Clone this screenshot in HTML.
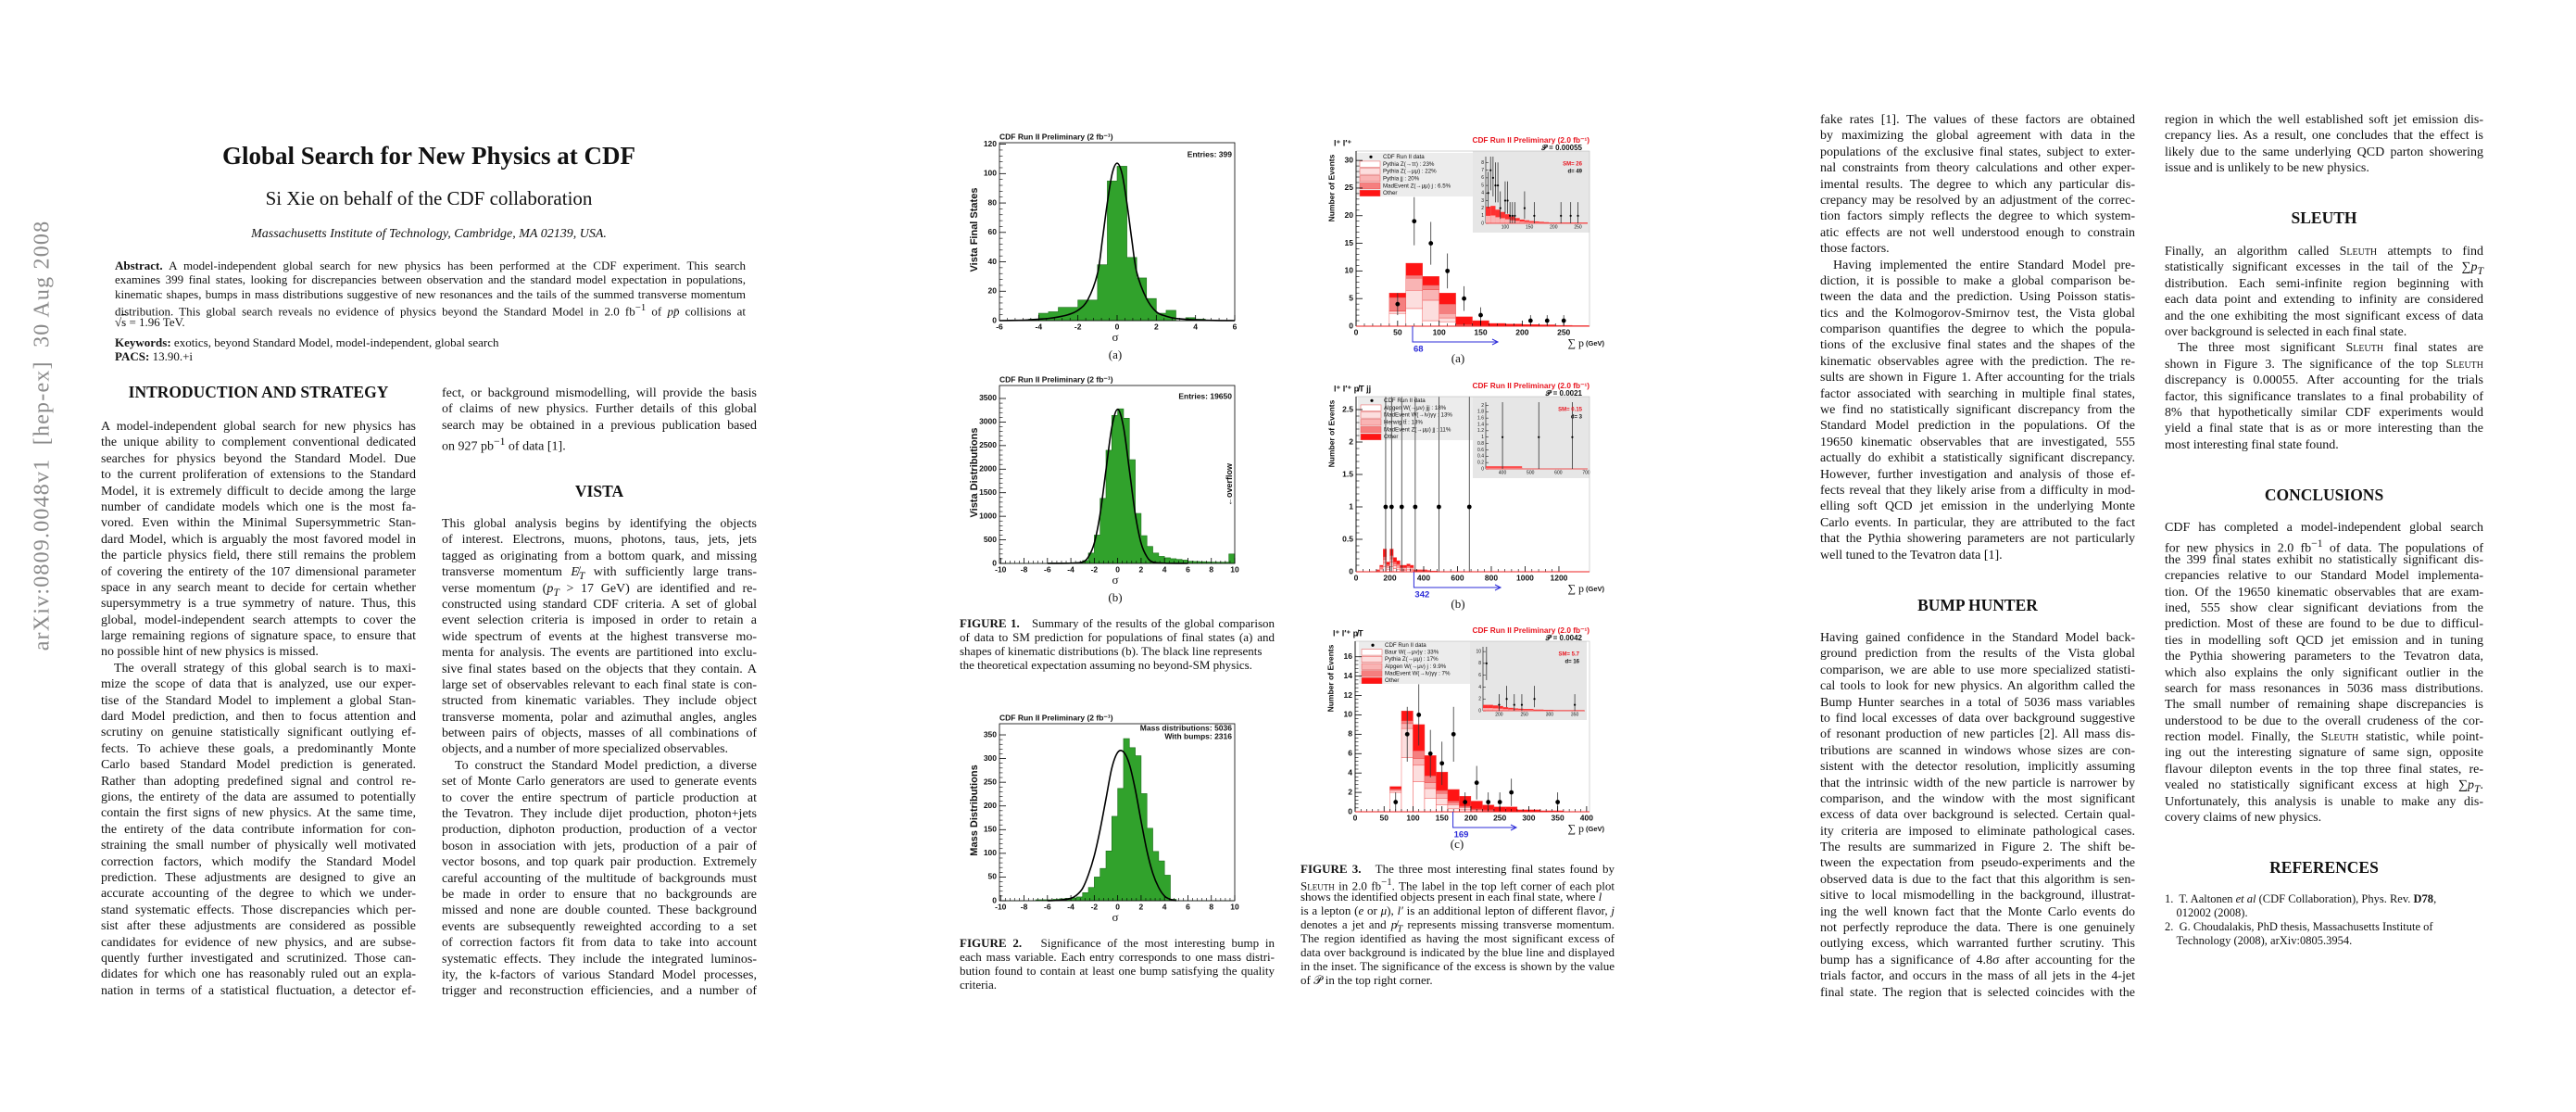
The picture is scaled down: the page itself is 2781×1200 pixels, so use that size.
<!DOCTYPE html>
<html><head><meta charset="utf-8">
<style>
html,body{margin:0;padding:0;background:#fff;}
body{width:2781px;height:1200px;position:relative;overflow:hidden;font-family:"Liberation Serif",serif;color:#111;}
.abs{position:absolute;}
.col{position:absolute;width:340px;font-size:14px;line-height:17.4px;}
.col div{white-space:nowrap;text-align:justify;text-align-last:justify;height:17.4px;}
.col div.e{text-align-last:left;}
.col div.i{text-indent:14px;}
.h{position:absolute;width:340px;text-align:center;font-weight:bold;font-size:17.5px;line-height:22px;white-space:nowrap;}
.cap{position:absolute;width:340px;font-size:13px;line-height:15px;}
.cap div{white-space:nowrap;text-align:justify;text-align-last:justify;height:15px;}
.cap div.e{text-align-last:left;}
.abst{position:absolute;left:124px;width:681px;font-size:13px;line-height:15.3px;}
.abst div{white-space:nowrap;text-align:justify;text-align-last:justify;height:15.3px;}
.abst div.e{text-align-last:left;}
.sc{font-variant:small-caps;}
svg text{font-family:"Liberation Sans",sans-serif;}
</style></head>
<body>

<div class="abs" style="left:46px;top:470px;transform:translate(-50%,-50%) rotate(-90deg);white-space:nowrap;font-size:24px;color:#8a8a8a;letter-spacing:1.2px;">arXiv:0809.0048v1&nbsp; [hep-ex]&nbsp; 30 Aug 2008</div>

<div class="abs" style="left:0;width:926px;top:153px;text-align:center;font-weight:bold;font-size:27px;line-height:30px;white-space:nowrap;">Global Search for New Physics at CDF</div>
<div class="abs" style="left:0;width:926px;top:202px;text-align:center;font-size:21px;line-height:24px;white-space:nowrap;">Si Xie on behalf of the CDF collaboration</div>
<div class="abs" style="left:0;width:926px;top:244px;text-align:center;font-size:14px;font-style:italic;line-height:17px;white-space:nowrap;">Massachusetts Institute of Technology, Cambridge, MA 02139, USA.</div>

<div class="abst" style="top:279px;">
<div><b>Abstract.</b> A model-independent global search for new physics has been performed at the CDF experiment. This search</div>
<div>examines 399 final states, looking for discrepancies between observation and the standard model expectation in populations,</div>
<div>kinematic shapes, bumps in mass distributions suggestive of new resonances and the tails of the summed transverse momentum</div>
<div>distribution. This global search reveals no evidence of physics beyond the Standard Model in 2.0 fb<sup>−1</sup> of <i>pp̄</i> collisions at</div>
<div class="e">√<span style="text-decoration:overline">s</span> = 1.96 TeV.</div>
</div>
<div class="abst" style="top:362px;">
<div class="e"><b>Keywords:</b> exotics, beyond Standard Model, model-independent, global search</div>
<div class="e"><b>PACS:</b> 13.90.+i</div>
</div>

<!-- Column 1 -->
<div class="h" style="left:109px;top:412px;">INTRODUCTION AND STRATEGY</div>
<div class="col" style="left:109px;top:452px;">
<div>A model-independent global search for new physics has</div>
<div>the unique ability to complement conventional dedicated</div>
<div>searches for physics beyond the Standard Model. Due</div>
<div>to the current proliferation of extensions to the Standard</div>
<div>Model, it is extremely difficult to decide among the large</div>
<div>number of candidate models which one is the most fa-</div>
<div>vored. Even within the Minimal Supersymmetric Stan-</div>
<div>dard Model, which is arguably the most favored model in</div>
<div>the particle physics field, there still remains the problem</div>
<div>of covering the entirety of the 107 dimensional parameter</div>
<div>space in any search meant to decide for certain whether</div>
<div>supersymmetry is a true symmetry of nature. Thus, this</div>
<div>global, model-independent search attempts to cover the</div>
<div>large remaining regions of signature space, to ensure that</div>
<div class="e">no possible hint of new physics is missed.</div>
<div class="i">The overall strategy of this global search is to maxi-</div>
<div>mize the scope of data that is analyzed, use our exper-</div>
<div>tise of the Standard Model to implement a global Stan-</div>
<div>dard Model prediction, and then to focus attention and</div>
<div>scrutiny on genuine statistically significant outlying ef-</div>
<div>fects. To achieve these goals, a predominantly Monte</div>
<div>Carlo based Standard Model prediction is generated.</div>
<div>Rather than adopting predefined signal and control re-</div>
<div>gions, the entirety of the data are assumed to potentially</div>
<div>contain the first signs of new physics. At the same time,</div>
<div>the entirety of the data contribute information for con-</div>
<div>straining the small number of physically well motivated</div>
<div>correction factors, which modify the Standard Model</div>
<div>prediction. These adjustments are designed to give an</div>
<div>accurate accounting of the degree to which we under-</div>
<div>stand systematic effects. Those discrepancies which per-</div>
<div>sist after these adjustments are considered as possible</div>
<div>candidates for evidence of new physics, and are subse-</div>
<div>quently further investigated and scrutinized. Those can-</div>
<div>didates for which one has reasonably ruled out an expla-</div>
<div>nation in terms of a statistical fluctuation, a detector ef-</div>
</div>

<!-- Column 2 -->
<div class="col" style="left:477px;top:416px;">
<div>fect, or background mismodelling, will provide the basis</div>
<div>of claims of new physics. Further details of this global</div>
<div>search may be obtained in a previous publication based</div>
<div class="e">on 927 pb<sup>−1</sup> of data [1].</div>
</div>
<div class="h" style="left:477px;top:519px;">VISTA</div>
<div class="col" style="left:477px;top:557px;">
<div>This global analysis begins by identifying the objects</div>
<div>of interest. Electrons, muons, photons, taus, jets, jets</div>
<div>tagged as originating from a bottom quark, and missing</div>
<div>transverse momentum <i>E̸<sub>T</sub></i> with sufficiently large trans-</div>
<div>verse momentum (<i>p<sub>T</sub></i> &gt; 17 GeV) are identified and re-</div>
<div>constructed using standard CDF criteria. A set of global</div>
<div>event selection criteria is imposed in order to retain a</div>
<div>wide spectrum of events at the highest transverse mo-</div>
<div>menta for analysis. The events are partitioned into exclu-</div>
<div>sive final states based on the objects that they contain. A</div>
<div>large set of observables relevant to each final state is con-</div>
<div>structed from kinematic variables. They include object</div>
<div>transverse momenta, polar and azimuthal angles, angles</div>
<div>between pairs of objects, masses of all combinations of</div>
<div class="e">objects, and a number of more specialized observables.</div>
<div class="i">To construct the Standard Model prediction, a diverse</div>
<div>set of Monte Carlo generators are used to generate events</div>
<div>to cover the entire spectrum of particle production at</div>
<div>the Tevatron. They include dijet production, photon+jets</div>
<div>production, diphoton production, production of a vector</div>
<div>boson in association with jets, production of a pair of</div>
<div>vector bosons, and top quark pair production. Extremely</div>
<div>careful accounting of the multitude of backgrounds must</div>
<div>be made in order to ensure that no backgrounds are</div>
<div>missed and none are double counted. These background</div>
<div>events are subsequently reweighted according to a set</div>
<div>of correction factors fit from data to take into account</div>
<div>systematic effects. They include the integrated luminos-</div>
<div>ity, the k-factors of various Standard Model processes,</div>
<div>trigger and reconstruction efficiencies, and a number of</div>
</div>

<!-- Column 3 -->
<div class="col" style="left:1965px;top:121px;">
<div>fake rates [1]. The values of these factors are obtained</div>
<div>by maximizing the global agreement with data in the</div>
<div>populations of the exclusive final states, subject to exter-</div>
<div>nal constraints from theory calculations and other exper-</div>
<div>imental results. The degree to which any particular dis-</div>
<div>crepancy may be resolved by an adjustment of the correc-</div>
<div>tion factors simply reflects the degree to which system-</div>
<div>atic effects are not well understood enough to constrain</div>
<div class="e">those factors.</div>
<div class="i">Having implemented the entire Standard Model pre-</div>
<div>diction, it is possible to make a global comparison be-</div>
<div>tween the data and the prediction. Using Poisson statis-</div>
<div>tics and the Kolmogorov-Smirnov test, the Vista global</div>
<div>comparison quantifies the degree to which the popula-</div>
<div>tions of the exclusive final states and the shapes of the</div>
<div>kinematic observables agree with the prediction. The re-</div>
<div>sults are shown in Figure 1. After accounting for the trials</div>
<div>factor associated with searching in multiple final states,</div>
<div>we find no statistically significant discrepancy from the</div>
<div>Standard Model prediction in the populations. Of the</div>
<div>19650 kinematic observables that are investigated, 555</div>
<div>actually do exhibit a statistically significant discrepancy.</div>
<div>However, further investigation and analysis of those ef-</div>
<div>fects reveal that they likely arise from a difficulty in mod-</div>
<div>elling soft QCD jet emission in the underlying Monte</div>
<div>Carlo events. In particular, they are attributed to the fact</div>
<div>that the Pythia showering parameters are not particularly</div>
<div class="e">well tuned to the Tevatron data [1].</div>
</div>
<div class="h" style="left:1965px;top:642px;">BUMP HUNTER</div>
<div class="col" style="left:1965px;top:680px;">
<div>Having gained confidence in the Standard Model back-</div>
<div>ground prediction from the results of the Vista global</div>
<div>comparison, we are able to use more specialized statisti-</div>
<div>cal tools to look for new physics. An algorithm called the</div>
<div>Bump Hunter searches in a total of 5036 mass variables</div>
<div>to find local excesses of data over background suggestive</div>
<div>of resonant production of new particles [2]. All mass dis-</div>
<div>tributions are scanned in windows whose sizes are con-</div>
<div>sistent with the detector resolution, implicitly assuming</div>
<div>that the intrinsic width of the new particle is narrower by</div>
<div>comparison, and the window with the most significant</div>
<div>excess of data over background is selected. Certain qual-</div>
<div>ity criteria are imposed to eliminate pathological cases.</div>
<div>The results are summarized in Figure 2. The shift be-</div>
<div>tween the expectation from pseudo-experiments and the</div>
<div>observed data is due to the fact that this algorithm is sen-</div>
<div>sitive to local mismodelling in the background, illustrat-</div>
<div>ing the well known fact that the Monte Carlo events do</div>
<div>not perfectly reproduce the data. There is one genuinely</div>
<div>outlying excess, which warranted further scrutiny. This</div>
<div>bump has a significance of 4.8σ after accounting for the</div>
<div>trials factor, and occurs in the mass of all jets in the 4-jet</div>
<div>final state. The region that is selected coincides with the</div>
</div>

<!-- Column 4 -->
<div class="col" style="left:2337px;top:121px;width:344px;">
<div>region in which the well established soft jet emission dis-</div>
<div>crepancy lies. As a result, one concludes that the effect is</div>
<div>likely due to the same underlying QCD parton showering</div>
<div class="e">issue and is unlikely to be new physics.</div>
</div>
<div class="h" style="left:2337px;top:224px;width:344px;">SLEUTH</div>
<div class="col" style="left:2337px;top:263px;width:344px;">
<div>Finally, an algorithm called <span class="sc">Sleuth</span> attempts to find</div>
<div>statistically significant excesses in the tail of the ∑<i>p<sub>T</sub></i></div>
<div>distribution. Each semi-infinite region beginning with</div>
<div>each data point and extending to infinity are considered</div>
<div>and the one exhibiting the most significant excess of data</div>
<div class="e">over background is selected in each final state.</div>
<div class="i">The three most significant <span class="sc">Sleuth</span> final states are</div>
<div>shown in Figure 3. The significance of the top <span class="sc">Sleuth</span></div>
<div>discrepancy is 0.00055. After accounting for the trials</div>
<div>factor, this significance translates to a final probability of</div>
<div>8% that hypothetically similar CDF experiments would</div>
<div>yield a final state that is as or more interesting than the</div>
<div class="e">most interesting final state found.</div>
</div>
<div class="h" style="left:2337px;top:523px;width:344px;">CONCLUSIONS</div>
<div class="col" style="left:2337px;top:561px;width:344px;">
<div>CDF has completed a model-independent global search</div>
<div>for new physics in 2.0 fb<sup>−1</sup> of data. The populations of</div>
<div>the 399 final states exhibit no statistically significant dis-</div>
<div>crepancies relative to our Standard Model implementa-</div>
<div>tion. Of the 19650 kinematic observables that are exam-</div>
<div>ined, 555 show clear significant deviations from the</div>
<div>prediction. Most of these are found to be due to difficul-</div>
<div>ties in modelling soft QCD jet emission and in tuning</div>
<div>the Pythia showering parameters to the Tevatron data,</div>
<div>which also explains the only significant outlier in the</div>
<div>search for mass resonances in 5036 mass distributions.</div>
<div>The small number of remaining shape discrepancies is</div>
<div>understood to be due to the overall crudeness of the cor-</div>
<div>rection model. Finally, the <span class="sc">Sleuth</span> statistic, while point-</div>
<div>ing out the interesting signature of same sign, opposite</div>
<div>flavour dilepton events in the top three final states, re-</div>
<div>vealed no statistically significant excess at high ∑<i>p<sub>T</sub></i>.</div>
<div>Unfortunately, this analysis is unable to make any dis-</div>
<div class="e">covery claims of new physics.</div>
</div>
<div class="h" style="left:2337px;top:925px;width:344px;">REFERENCES</div>
<div class="cap" style="left:2337px;top:963px;width:344px;font-size:12.5px;line-height:15.5px;">
<div class="e">1.&nbsp; T. Aaltonen <i>et al</i> (CDF Collaboration), Phys. Rev. <b>D78</b>,</div>
<div class="e">&nbsp;&nbsp;&nbsp;&nbsp;012002 (2008).</div>
<div class="e">2.&nbsp; G. Choudalakis, PhD thesis, Massachusetts Institute of</div>
<div class="e">&nbsp;&nbsp;&nbsp;&nbsp;Technology (2008), arXiv:0805.3954.</div>
</div>

<!-- Captions -->
<div class="cap" style="left:1036px;top:665px;">
<div><b>FIGURE 1.</b>&nbsp;&nbsp; Summary of the results of the global comparison</div>
<div>of data to SM prediction for populations of final states (a) and</div>
<div class="e">shapes of kinematic distributions (b). The black line represents</div>
<div class="e">the theoretical expectation assuming no beyond-SM physics.</div>
</div>
<div class="cap" style="left:1036px;top:1010px;">
<div><b>FIGURE 2.</b>&nbsp;&nbsp; Significance of the most interesting bump in</div>
<div>each mass variable. Each entry corresponds to one mass distri-</div>
<div>bution found to contain at least one bump satisfying the quality</div>
<div class="e">criteria.</div>
</div>
<div class="cap" style="left:1404px;top:930px;width:339px;">
<div><b>FIGURE 3.</b>&nbsp;&nbsp; The three most interesting final states found by</div>
<div><span class="sc">Sleuth</span> in 2.0 fb<sup>−1</sup>. The label in the top left corner of each plot</div>
<div class="e">shows the identified objects present in each final state, where <i>l</i></div>
<div>is a lepton (<i>e</i> or <i>μ</i>), <i>l′</i> is an additional lepton of different flavor, <i>j</i></div>
<div>denotes a jet and <i>p̸<sub>T</sub></i> represents missing transverse momentum.</div>
<div>The region identified as having the most significant excess of</div>
<div>data over background is indicated by the blue line and displayed</div>
<div>in the inset. The significance of the excess is shown by the value</div>
<div class="e">of 𝒫 in the top right corner.</div>
</div>

<svg id="charts" class="abs" style="left:0;top:0;" width="2781" height="1200" viewBox="0 0 2781 1200" xmlns="http://www.w3.org/2000/svg"></svg>

<script>
// ===== DATA =====
const fig1aStart = -6, fig1aWidth = 0.5;
const fig1aCounts = [0,0,0,1,5,6,9,9,14,14,38,95,105,43,29,15,5,7,0,2,1,0,0,0];
const fig1aCurveX = [-6,-5,-4.5,-4,-3.5,-3,-2.5,-2,-1.5,-1,-0.75,-0.5,-0.25,0,0.25,0.5,0.75,1,1.5,2,2.5,3,4,5,6];
const fig1aCurveY = [0,0.2,0.5,1,1.5,2.5,4,7,14,32,55,80,100,107,100,80,55,33,15,6,3,1.5,0.5,0.1,0];
const fig1aXTicks = [-6,-4,-2,0,2,4,6];
const fig1aYTicks = [0,20,40,60,80,100,120];
const fig1bStart = -10, fig1bWidth = 0.5;
const fig1bCounts = [0,0,0,0,0,0,0,0,10,10,10,12,15,20,60,220,600,1380,2400,3140,3280,3080,2200,1060,590,360,220,150,120,100,85,70,45,40,35,30,28,25,25,200];
const fig1bCurveX = [-6,-4,-3,-2.5,-2,-1.5,-1,-0.5,0,0.5,1,1.5,2,2.5,3,4,6];
const fig1bCurveY = [0,5,30,140,430,1050,1980,2890,3270,2890,1980,1050,430,140,30,5,0];
const fig1bXTicks = [-10,-8,-6,-4,-2,0,2,4,6,8,10];
const fig1bYTicks = [0,500,1000,1500,2000,2500,3000,3500];
const fig2Start = -10, fig2Width = 0.5;
const fig2Counts = [0,0,0,0,0,0,2,2,2,3,4,5,6,8,17,28,50,68,105,178,237,342,323,306,226,153,104,84,54,3,0,0,0,0,0,0,0,0,0,0];
const fig2CurveX = [-6,-5,-4,-3.5,-3,-2.5,-2,-1.5,-1,-0.5,0,0.5,1,1.5,2,2.5,3,3.5,4,4.5,5];
const fig2CurveY = [0,1,5,12,26,55,95,150,215,280,313,314,288,235,168,105,58,28,10,3,0];
const fig2XTicks = [-10,-8,-6,-4,-2,0,2,4,6,8,10];
const fig2YTicks = [0,50,100,150,200,250,300,350];
const fig3aStart = 40, fig3aWidth = 20;
const fig3aC1 = [2.3,3.2,1.0,0.8,0,0,0,0,0,0,0,0];
const fig3aC2 = [0.4,3.3,3.7,0.7,0.1,0,0,0,0,0,0,0];
const fig3aC3 = [0.1,2.2,1.9,0.8,0.1,0,0,0,0,0,0,0];
const fig3aC4 = [2.4,0.5,0.8,1.7,0.1,0.1,0,0,0,0,0,0];
const fig3aC5 = [0.8,2.2,1.6,2.0,1.4,0.9,0.5,0.4,0.3,0.25,0.15,0.1];
const fig3aDataX = [50,70,90,110,130,150,210,230,250];
const fig3aDataN = [4,19,15,10,5,2,1,1,1];
const fig3aXTicks = [0,50,100,150,200,250];
const fig3aYTicks = [0,5,10,15,20,25,30];
const fig3aCut = 68;
const fig3aInsetX = [65,70,75,80,85,90,100,105,110,115,120,140,160,215,235,250];
const fig3aInsetN = [4,7,6,5,5,2,3,3,1,1,1,2,1,1,1,1];
const fig3aInsetBand = [2.2,2.3,1.8,1.5,1.2,0.9,0.7,0.5,0.4,0.3,0.25,0.2,0.15,0.1,0.1,0.1,0.1,0.1,0.1,0.1,0.1];
const fig3bStart = 120, fig3bWidth = 20;
const fig3bC1 = [0.01,0.03,0.08,0.04,0.08,0.05,0.04,0.02,0.02,0.03,0.02,0.01,0.01,0.01,0.01,0.005,0,0];
const fig3bC2 = [0.01,0.02,0.06,0.03,0.07,0.04,0.03,0.02,0.02,0.03,0.02,0.005,0.005,0.005,0.005,0.005,0.005,0];
const fig3bC3 = [0,0.02,0.05,0.02,0.05,0.03,0.03,0.02,0.02,0.02,0.02,0.005,0.005,0.005,0.005,0.005,0,0.005];
const fig3bC4 = [0,0.01,0.04,0.02,0.05,0.03,0.02,0.01,0.01,0.01,0.01,0.005,0.005,0.005,0.005,0,0,0];
const fig3bC5 = [0.01,0.02,0.12,0.04,0.1,0.07,0.05,0.03,0.03,0.03,0.03,0.005,0.005,0.005,0.005,0.005,0.005,0.005];
const fig3bDataX = [175,210,270,350,490,670];
const fig3bDataN = [1,1,1,1,1,1];
const fig3bXTicks = [0,200,400,600,800,1000,1200];
const fig3bYTicks = [0,0.5,1,1.5,2,2.5];
const fig3bCut = 342;
const fig3bInsetX = [400,530,650];
const fig3bInsetN = [1,1,1];
const fig3cStart = 60, fig3cWidth = 20;
const fig3cC1 = [2.0,5.6,3.1,1.4,0.7,0.3,0.2,0.1,0.05,0,0,0,0,0,0];
const fig3cC2 = [0.2,3.0,1.7,1.0,0.7,0.4,0.2,0.1,0.05,0,0,0,0,0,0];
const fig3cC3 = [0.1,0.5,0.7,0.6,0.5,0.2,0.1,0.05,0.05,0,0,0,0,0,0];
const fig3cC4 = [0.05,0.3,0.8,0.7,0.3,0.2,0.1,0.05,0.05,0,0,0,0,0,0];
const fig3cC5 = [0.25,1.0,2.7,2.1,1.9,1.2,1.0,0.8,0.5,0.5,0.5,0.2,0.2,0.1,0.1];
const fig3cDataX = [70,90,110,130,150,170,190,210,230,250,270,350];
const fig3cDataN = [1,8,10,6,5,8,1,3,1,1,2,1];
const fig3cXTicks = [0,50,100,150,200,250,300,350,400];
const fig3cYTicks = [0,2,4,6,8,10,12,14,16];
const fig3cCut = 169;
const fig3cInsetX = [175,200,215,230,245,270,350];
const fig3cInsetN = [8,1,2,1,1,2,1];
const fig3cInsetBand = [1.0,1.0,0.9,0.8,0.6,0.5,0.4,0.35,0.3,0.3,0.2,0.2,0.15,0.15,0.1,0.1,0.1,0.1,0.1,0.1];
const stackColors = ['#ffffff','#fcdede','#f9b4b4','#f57f7f','#ff1414'];

// ===== HELPERS =====
const NS = 'http://www.w3.org/2000/svg';
const svg = document.getElementById('charts');
function mk(tag, attrs, name, parent) {
  const e = document.createElementNS(NS, tag);
  for (const k in attrs) e.setAttribute(k, attrs[k]);
  
  
  (parent || svg).appendChild(e);
  return e;
}
function txt(x, y, s, size, name, opts) {
  opts = opts || {};
  const t = mk('text', {x: x, y: y, 'font-size': size, 'font-weight': opts.w || 'bold', fill: opts.fill || '#111', 'text-anchor': opts.a || 'start', 'dominant-baseline': 'middle'}, name);
  if (opts.rot) t.setAttribute('transform', 'rotate(-90 ' + x + ' ' + y + ')');
  if (opts.family) t.setAttribute('style', 'font-family:' + opts.family);
  t.textContent = s;
  return t;
}
function axes(fr, x0, x1, y0, y1) {
  return {
    X: v => fr.x + (v - x0) / (x1 - x0) * fr.w,
    Y: v => fr.y + fr.h - (v - y0) / (y1 - y0) * fr.h
  };
}
function fmt(v) { return String(v); }
function drawTicks(fr, A, xt, yt, pre, fs) {
  xt.forEach(v => {
    const x = A.X(v);
    mk('line', {x1: x, y1: fr.y + fr.h, x2: x, y2: fr.y + fr.h - 6, stroke: '#000', 'stroke-width': 0.8}, pre + '-x-tick');
    txt(x, fr.y + fr.h + 7, fmt(v), fs, pre + '-x-tick-label', {a: 'middle'});
  });
  for (let i = 0; i < xt.length - 1; i++) {
    for (let k = 1; k < 5; k++) {
      const x = A.X(xt[i] + (xt[i + 1] - xt[i]) * k / 5);
      mk('line', {x1: x, y1: fr.y + fr.h, x2: x, y2: fr.y + fr.h - 3, stroke: '#000', 'stroke-width': 0.6}, pre + '-x-minor-tick');
    }
  }
  yt.forEach(v => {
    const y = A.Y(v);
    mk('line', {x1: fr.x, y1: y, x2: fr.x + 7, y2: y, stroke: '#000', 'stroke-width': 0.8}, pre + '-y-tick');
    txt(fr.x - 3, y, fmt(v), fs, pre + '-y-tick-label', {a: 'end'});
  });
  for (let i = 0; i < yt.length - 1; i++) {
    for (let k = 1; k < 5; k++) {
      const y = A.Y(yt[i] + (yt[i + 1] - yt[i]) * k / 5);
      mk('line', {x1: fr.x, y1: y, x2: fr.x + 3.5, y2: y, stroke: '#000', 'stroke-width': 0.6}, pre + '-y-minor-tick');
    }
  }
}
function greenHist(A, start, width, counts, pre) {
  let d = 'M' + A.X(start) + ' ' + A.Y(0);
  counts.forEach((c, i) => {
    const xa = A.X(start + i * width), xb = A.X(start + (i + 1) * width), y = A.Y(c);
    d += ' L' + xa + ' ' + y + ' L' + xb + ' ' + y;
  });
  d += ' L' + A.X(start + counts.length * width) + ' ' + A.Y(0) + ' Z';
  mk('path', {d: d, fill: '#31a22c', stroke: '#1d6e1a', 'stroke-width': 0.6}, pre + '-histogram');
}
function curve(A, xs, ys, pre) {
  const P = xs.map((x, i) => [A.X(x), A.Y(ys[i])]);
  let d = 'M' + P[0][0] + ' ' + P[0][1];
  for (let i = 0; i < P.length - 1; i++) {
    const p0 = P[Math.max(0, i - 1)], p1 = P[i], p2 = P[i + 1], p3 = P[Math.min(P.length - 1, i + 2)];
    const c1x = p1[0] + (p2[0] - p0[0]) / 6, c1y = p1[1] + (p2[1] - p0[1]) / 6;
    const c2x = p2[0] - (p3[0] - p1[0]) / 6, c2y = p2[1] - (p3[1] - p1[1]) / 6;
    d += ' C' + c1x + ' ' + c1y + ' ' + c2x + ' ' + c2y + ' ' + p2[0] + ' ' + p2[1];
  }
  mk('path', {d: d, fill: 'none', stroke: '#000', 'stroke-width': 1.6}, pre + '-expectation-curve');
}
function vistaPanel(fr, A, pre, title, ytitle, xt, yt) {
  mk('rect', {x: fr.x, y: fr.y, width: fr.w, height: fr.h, fill: 'none', stroke: '#000', 'stroke-width': 0.8}, pre + '-frame');
  drawTicks(fr, A, xt, yt, pre, 8.5);
  txt(fr.x, fr.y - 6, title, 8.5, pre + '-title');
  txt(fr.x - 27, fr.y + fr.h / 2 - 2, ytitle, 11, pre + '-y-axis-title', {a: 'middle', rot: true});
  txt(fr.x + fr.w / 2 - 2, fr.y + fr.h + 19, 'σ', 13, pre + '-x-axis-title', {a: 'middle', w: 'normal', family: '"Liberation Serif",serif'});
}
function stack(A, start, width, comps, pre) {
  const n = comps[0].length;
  for (let i = 0; i < n; i++) {
    let cum = 0;
    comps.forEach((c, j) => {
      const lo = cum; cum += c[i];
      if (c[i] <= 0) return;
      const xa = A.X(start + i * width), xb = A.X(start + (i + 1) * width);
      mk('rect', {x: xa, y: A.Y(cum), width: xb - xa, height: A.Y(lo) - A.Y(cum), fill: stackColors[j], stroke: '#ee4444', 'stroke-width': 0.4}, pre + '-stack-bin');
    });
  }
}
function points(A, fr, xs, ns, pre, r, hiExtra) {
  xs.forEach((x, i) => {
    const n = ns[i], e = Math.sqrt(n);
    const top = Math.max(fr.y, A.Y(n + e + (hiExtra || 0)));
    mk('line', {x1: A.X(x), y1: Math.min(fr.y + fr.h, A.Y(n - e)), x2: A.X(x), y2: top, stroke: '#333', 'stroke-width': 0.8}, pre + '-error-bar');
    mk('circle', {cx: A.X(x), cy: A.Y(n), r: r || 2.4, fill: '#000'}, pre + '-data-point');
  });
}
function legend(x, y, entries, pre, w, h) {
  mk('rect', {x: x, y: y, width: w, height: h, fill: '#ececec'}, pre + '-legend-box');
  const dy = h / 6;
  mk('circle', {cx: x + 15, cy: y + dy * 0.55, r: 1.6, fill: '#000'}, pre + '-legend-marker');
  txt(x + 28, y + dy * 0.55, 'CDF Run II data', 6.2, pre + '-legend-entry', {w: 'normal'});
  entries.forEach((s, i) => {
    const yy = y + dy * (i + 1.55);
    mk('rect', {x: x + 3, y: yy - 3.2, width: 22, height: 6.4, fill: stackColors[i], stroke: '#ee5555', 'stroke-width': 0.5}, pre + '-legend-swatch');
    txt(x + 28, yy, s, 6.2, pre + '-legend-entry', {w: 'normal'});
  });
}
function sleuthPanel(fr, A, pre, label, p, xt, yt, cut, arrowEnd, tag) {
  mk('rect', {x: fr.x, y: fr.y, width: fr.w, height: fr.h, fill: 'none', stroke: '#bbb', 'stroke-width': 0.6}, pre + '-frame');
  mk('line', {x1: fr.x, y1: fr.y, x2: fr.x, y2: fr.y + fr.h, stroke: '#000', 'stroke-width': 0.9}, pre + '-y-axis');
  drawTicks(fr, A, xt, yt, pre, 8.5);
  mk('line', {x1: fr.x, y1: fr.y + fr.h, x2: fr.x + fr.w, y2: fr.y + fr.h, stroke: '#e22', 'stroke-width': 1}, pre + '-x-axis');
  txt(fr.x + fr.w, fr.y - 11, 'CDF Run II Preliminary (2.0 fb⁻¹)', 8.3, pre + '-title', {a: 'end', fill: '#e8141e'});
  txt(fr.x + fr.w - 8, fr.y - 3, '𝒫 = ' + p, 8, pre + '-p-value', {a: 'end'});
  txt(fr.x - 24, fr.y - 8, label, 9, pre + '-final-state-label');
  txt(fr.x - 26, fr.y + 40, 'Number of Events', 8.5, pre + '-y-axis-title', {a: 'middle', rot: true});
  txt(fr.x + fr.w - 6, fr.y + fr.h + 19, '∑ p', 12, pre + '-x-axis-title', {a: 'end', w: 'normal', family: '"Liberation Serif",serif'});
  txt(fr.x + fr.w - 4, fr.y + fr.h + 19, '(GeV)', 7.5, pre + '-x-axis-unit');
  const cx = A.X(cut), ay = fr.y + fr.h + 17;
  mk('path', {d: 'M' + cx + ' ' + (fr.y + fr.h) + ' L' + cx + ' ' + ay + ' L' + arrowEnd + ' ' + ay, fill: 'none', stroke: '#2b2bd8', 'stroke-width': 1}, pre + '-region-arrow');
  mk('path', {d: 'M' + (arrowEnd - 6) + ' ' + (ay - 3) + ' L' + arrowEnd + ' ' + ay + ' L' + (arrowEnd - 6) + ' ' + (ay + 3), fill: 'none', stroke: '#2b2bd8', 'stroke-width': 1}, pre + '-region-arrowhead');
  txt(cx + 1, ay + 8, String(cut), 9.5, pre + '-region-start-label', {fill: '#2b2bd8'});
  txt(fr.x + 110, fr.y + fr.h + 36, tag, 13, pre + '-panel-label', {a: 'middle', w: 'normal', family: '"Liberation Serif",serif'});
}
function inset(box, pre, x0, x1, y0, y1, xt, yt, bandStart, bandW, band, xs, ns, sm, d) {
  mk('rect', {x: box.x, y: box.y, width: box.w, height: box.h, fill: '#e6e6e6'}, pre + '-inset-box');
  const fr = {x: box.x + 14, y: box.y + 6, w: box.w - 16, h: box.h - 16};
  const A = axes(fr, x0, x1, y0, y1);
  mk('line', {x1: fr.x, y1: fr.y, x2: fr.x, y2: fr.y + fr.h, stroke: '#000', 'stroke-width': 0.6}, pre + '-inset-y-axis');
  yt.forEach(v => {
    mk('line', {x1: fr.x, y1: A.Y(v), x2: fr.x + 3, y2: A.Y(v), stroke: '#000', 'stroke-width': 0.5}, pre + '-inset-y-tick');
    txt(fr.x - 2, A.Y(v), fmt(v), 5, pre + '-inset-y-label', {a: 'end', w: 'normal'});
  });
  xt.forEach(v => {
    txt(A.X(v), fr.y + fr.h + 4, fmt(v), 5, pre + '-inset-x-label', {a: 'middle', w: 'normal'});
  });
  band.forEach((b, i) => {
    const xa = A.X(bandStart + i * bandW), xb = Math.min(A.X(bandStart + (i + 1) * bandW), fr.x + fr.w);
    if (xa >= fr.x + fr.w) return;
    mk('rect', {x: xa, y: A.Y(b), width: xb - xa, height: A.Y(0) - A.Y(b), fill: '#ff3030'}, pre + '-inset-band');
    mk('rect', {x: xa, y: A.Y(b * 0.45), width: xb - xa, height: A.Y(0) - A.Y(b * 0.45), fill: '#f9b4b4'}, pre + '-inset-band-low');
  });
  mk('line', {x1: fr.x, y1: fr.y + fr.h, x2: fr.x + fr.w, y2: fr.y + fr.h, stroke: '#e22', 'stroke-width': 0.8}, pre + '-inset-x-axis');
  points(A, fr, xs, ns, pre + '-inset', 1.1, 0.8);
  txt(box.x + box.w - 8, box.y + 14, 'SM= ' + sm, 6, pre + '-inset-sm', {a: 'end', fill: '#e8141e'});
  txt(box.x + box.w - 8, box.y + 22, 'd= ' + d, 6, pre + '-inset-d', {a: 'end'});
}

// ===== FIGURE 1a =====
const f1a = {x: 1079, y: 154, w: 254, h: 192};
const A1a = axes(f1a, -6, 6, 0, 121);
greenHist(A1a, fig1aStart, fig1aWidth, fig1aCounts, 'fig1a');
curve(A1a, fig1aCurveX, fig1aCurveY, 'fig1a');
vistaPanel(f1a, A1a, 'fig1a', 'CDF Run II Preliminary (2 fb⁻¹)', 'Vista Final States', fig1aXTicks, fig1aYTicks);
txt(f1a.x + f1a.w - 3, f1a.y + 13, 'Entries: 399', 8.5, 'fig1a-entries', {a: 'end'});
txt(1204, 384, '(a)', 13, 'fig1a-panel-label', {a: 'middle', w: 'normal', family: '"Liberation Serif",serif'});

// ===== FIGURE 1b =====
const f1b = {x: 1079, y: 416, w: 254, h: 192};
const A1b = axes(f1b, -10.1, 10, 0, 3775);
greenHist(A1b, fig1bStart, fig1bWidth, fig1bCounts, 'fig1b');
curve(A1b, fig1bCurveX, fig1bCurveY, 'fig1b');
vistaPanel(f1b, A1b, 'fig1b', 'CDF Run II Preliminary (2 fb⁻¹)', 'Vista Distributions', fig1bXTicks, fig1bYTicks);
txt(f1b.x + f1b.w - 3, f1b.y + 12, 'Entries: 19650', 8.5, 'fig1b-entries', {a: 'end'});
txt(A1b.X(9.75) - 2, f1b.y + 130, '←overflow', 9, 'fig1b-overflow-label', {a: 'start', rot: true});
txt(1204, 646, '(b)', 13, 'fig1b-panel-label', {a: 'middle', w: 'normal', family: '"Liberation Serif",serif'});

// ===== FIGURE 2 =====
const f2 = {x: 1079, y: 781, w: 254, h: 191};
const A2 = axes(f2, -10.1, 10, 0, 373.5);
greenHist(A2, fig2Start, fig2Width, fig2Counts, 'fig2');
curve(A2, fig2CurveX, fig2CurveY, 'fig2');
vistaPanel(f2, A2, 'fig2', 'CDF Run II Preliminary (2 fb⁻¹)', 'Mass Distributions', fig2XTicks, fig2YTicks);
txt(f2.x + f2.w - 3, f2.y + 5, 'Mass distributions: 5036', 8.5, 'fig2-mass-distributions', {a: 'end'});
txt(f2.x + f2.w - 3, f2.y + 14, 'With bumps: 2316', 8.5, 'fig2-with-bumps', {a: 'end'});

// ===== FIGURE 3a =====
const f3a = {x: 1464, y: 163, w: 252, h: 189};
const A3a = axes(f3a, 0, 281, 0, 31.7);
legend(1465, 165, ['Pythia Z(→ττ) : 23%', 'Pythia Z(→μμ) : 22%', 'Pythia jj : 20%', 'MadEvent Z(→μμ) j : 6.5%', 'Other'], 'fig3a', 126, 47);
inset({x: 1590, y: 163, w: 126, h: 88}, 'fig3a', 60, 270, 0, 8.8, [100,150,200,250], [0,1,2,3,4,5,6,7,8], 60, 10, fig3aInsetBand, fig3aInsetX, fig3aInsetN, '26', '49');
stack(A3a, fig3aStart, fig3aWidth, [fig3aC1, fig3aC2, fig3aC3, fig3aC4, fig3aC5], 'fig3a');
points(A3a, f3a, fig3aDataX, fig3aDataN, 'fig3a');
sleuthPanel(f3a, A3a, 'fig3a', 'l⁺ l′⁺', '0.00055', fig3aXTicks, fig3aYTicks, fig3aCut, 1617, '(a)');

// ===== FIGURE 3b =====
const f3b = {x: 1464, y: 428, w: 252, h: 189};
const A3b = axes(f3b, 0, 1381, 0, 2.7);
legend(1466, 428, ['Alpgen W(→μν) jjj : 18%', 'MadEvent W(→lν)γγ : 13%', 'Herwig tt̄ : 13%', 'MadEvent Z(→μμ) jj : 11%', 'Other'], 'fig3b', 124, 47);
inset({x: 1590, y: 428, w: 126, h: 88}, 'fig3b', 340, 705, 0, 2.1, [400,500,600,700], [0,0.2,0.4,0.6,0.8,1,1.2,1.4,1.6,1.8,2], 340, 130, [0.08], fig3bInsetX, fig3bInsetN, '0.15', '3');
stack(A3b, fig3bStart, fig3bWidth, [fig3bC1, fig3bC2, fig3bC3, fig3bC4, fig3bC5], 'fig3b');
points(A3b, f3b, fig3bDataX, fig3bDataN, 'fig3b', 2.4, 1);
sleuthPanel(f3b, A3b, 'fig3b', 'l⁺ l′⁺ p̸T jj', '0.0021', fig3bXTicks, fig3bYTicks, fig3bCut, 1620, '(b)');

// ===== FIGURE 3c =====
const f3c = {x: 1463, y: 692, w: 253, h: 184};
const A3c = axes(f3c, 0, 405, 0, 17.6);
legend(1467, 692, ['Baur W(→μν)γ : 33%', 'Pythia Z(→μμ) : 17%', 'Alpgen W(→μν) j : 9.9%', 'MadEvent W(→lν)γγ : 7%', 'Other'], 'fig3c', 120, 46);
inset({x: 1587, y: 692, w: 126, h: 85}, 'fig3c', 168, 370, 0, 10.8, [200,250,300,350], [0,2,4,6,8,10], 168, 10, fig3cInsetBand, fig3cInsetX, fig3cInsetN, '5.7', '16');
stack(A3c, fig3cStart, fig3cWidth, [fig3cC1, fig3cC2, fig3cC3, fig3cC4, fig3cC5], 'fig3c');
points(A3c, f3c, fig3cDataX, fig3cDataN, 'fig3c');
sleuthPanel(f3c, A3c, 'fig3c', 'l⁺ l′⁺ p̸T', '0.0042', fig3cXTicks, fig3cYTicks, fig3cCut, 1637, '(c)');
</script>
</body></html>
